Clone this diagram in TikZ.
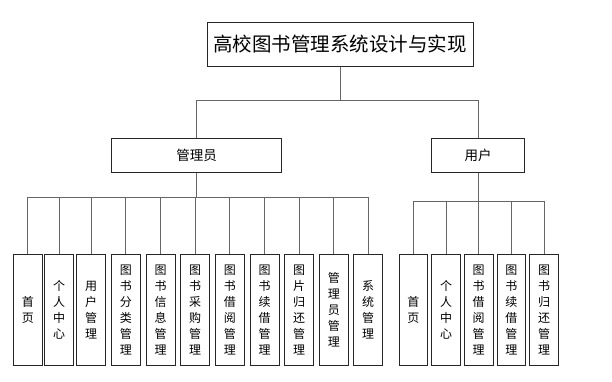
\documentclass[tikz,border=0pt]{standalone}
\usepackage{fontspec}
\setmainfont{Noto Sans CJK SC}
\usetikzlibrary{calc}

\tikzset{
  box/.style={draw=black!85, line width=0.9pt, inner sep=0pt, align=center},
  leaf/.style={box, minimum width=29pt, minimum height=111.5pt,
    font=\fontsize{12}{16}\selectfont},
  link/.style={draw=black!60, line width=0.9pt},
}

\begin{document}
\begin{tikzpicture}[x=1pt,y=-1pt]
    \useasboundingbox (0,0) rectangle (612,382);

    % Root
    \node[box, minimum width=266pt, minimum height=44pt,
      font=\fontsize{19.5}{20}\selectfont] (root) at (340,44.5) {高校图书管理系统设计与实现};

    % Roles
    \node[box, minimum width=170pt, minimum height=34pt,
      font=\fontsize{13.5}{14}\selectfont] (admin) at (196.7,155.3) {管理员};
    \node[box, minimum width=92.6pt, minimum height=34pt,
      font=\fontsize{13.5}{14}\selectfont] (user) at (478,155.3) {用户};
    \coordinate (hub) at (340,100);
    \draw[link] (root.south) -- (hub) -| (admin.north);
    \draw[link] (hub) -| (user.north);

    % Admin modules
    \coordinate (abus) at (196.7,197.7);
    \draw[link] (admin.south) -- (abus);
    \foreach \x/\txt [count=\i] in {27.8/{首\\页}, 59/{个\\人\\中\\心}, 91/{用\\户\\管\\理},
        125.8/{图\\书\\分\\类\\管\\理}, 160.5/{图\\书\\信\\息\\管\\理},
        195.2/{图\\书\\采\\购\\管\\理}, 229.8/{图\\书\\借\\阅\\管\\理},
        264.5/{图\\书\\续\\借\\管\\理}, 299.2/{图\\片\\归\\还\\管\\理},
        333.8/{管\\理\\员\\管\\理}, 368.2/{系\\统\\管\\理}} {
      \node[leaf] (a\i) at (\x,309.7) {\txt};
      \draw[link] (abus) -| (a\i.north);
    }

    % User modules
    \coordinate (ubus) at (478,201.3);
    \draw[link] (user.south) -- (ubus);
    \foreach \x/\txt [count=\i] in {413.3/{首\\页}, 446/{个\\人\\中\\心},
        478.6/{图\\书\\借\\阅\\管\\理}, 511.3/{图\\书\\续\\借\\管\\理},
        544/{图\\书\\归\\还\\管\\理}} {
      \node[leaf, minimum width=28.7pt] (u\i) at (\x,309.7) {\txt};
      \draw[link] (ubus) -| (u\i.north);
    }
\end{tikzpicture}
\end{document}
